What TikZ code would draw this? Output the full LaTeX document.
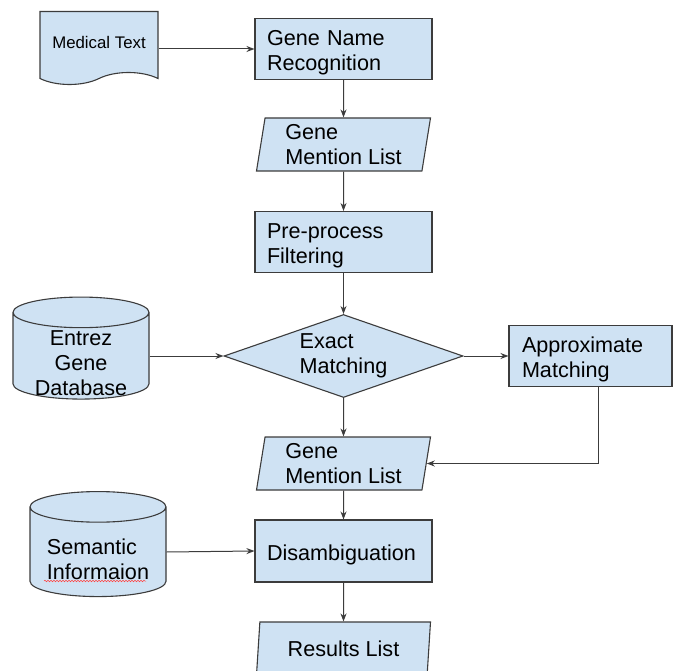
\documentclass[tikz,border=0pt]{standalone}
\usepackage{fontspec}
\setmainfont{Liberation Sans}
\usetikzlibrary{shapes.geometric,shapes.symbols,arrows.meta,decorations.pathmorphing}

\definecolor{boxblue}{RGB}{207,226,243}
\definecolor{topblue}{RGB}{224,237,249}
\definecolor{edgegray}{RGB}{60,60,60}

\tikzset{
  base/.style={draw=edgegray,fill=boxblue,line width=1.1pt,font=\fontsize{21.6}{25}\selectfont,align=left,inner sep=0pt},
  lowtext/.style={execute at begin node={\rule{0pt}{#1}}},
  procbox/.style={base,rectangle,minimum width=177,minimum height=61,text width=153,lowtext=23pt},
  listbox/.style={base,trapezium,trapezium left angle=78,trapezium right angle=102,trapezium stretches body,minimum width=174,minimum height=53},
  dbcyl/.style={base,cylinder,shape border rotate=90,aspect=0.3,cylinder uses custom fill,cylinder body fill=boxblue,cylinder end fill=topblue,text width=102,text height=20,text depth=20,minimum width=136,minimum height=102},
  cyltext/.style={font=\fontsize{21.6}{25}\selectfont,inner sep=0pt,yshift=-7pt},
  flowarrow/.style={draw=edgegray,line width=1pt,-{Stealth[length=8pt,width=6pt]}}
}

\begin{document}
\begin{tikzpicture}[x=1pt,y=-1pt]
		\useasboundingbox[fill=white] (0,0) rectangle (675,671);
		% sources
		\node[base,tape,tape bend top=none,tape bend bottom=in and out,tape bend height=12,minimum width=118,minimum height=73,font=\fontsize{16.8}{20}\selectfont] (med) at (99,42) {Medical Text};
		\node[dbcyl,text height=24,text depth=24,label={[cyltext,align=center]center:Entrez\\Gene\\Database}] (entrez) at (81,356) {};
		\node[dbcyl,minimum height=105,label={[cyltext,align=left]center:Semantic\\Informaion}] (sem) at (98,552) {};
		% main column
		\node[procbox] (gnr) at (343.5,49) {Gene Name\\Recognition};
		\node[listbox] (gml1) at (343.5,144.5) {Gene\\Mention List};
		\node[procbox] (pre) at (343.5,242) {Pre-process\\Filtering};
		\node[base,diamond,shape aspect=2.9,minimum width=239,minimum height=83,lowtext=23pt] (exact) at (343.5,356) {Exact\\Matching};
		\node[procbox,minimum width=163,text width=137] (approx) at (590.5,356) {Approximate\\Matching};
		\node[listbox] (gml2) at (343.5,463.5) {Gene\\Mention List};
		\node[procbox,minimum height=62] (disamb) at (343.5,551) {Disambiguation};
		\node[listbox,align=center] (results) at (343.5,648.5) {Results List};
		% connectors
		\draw[flowarrow] (gnr.west -| med.east) -- (gnr.west);
		\draw[flowarrow] (gnr) -- (gml1);
		\draw[flowarrow] (gml1) -- (pre);
		\draw[flowarrow] (pre) -- (exact);
		\draw[flowarrow] (entrez.east) -- (exact.west);
		\draw[flowarrow] (exact.east) -- (approx.west);
		\draw[flowarrow] (exact) -- (gml2);
		\draw[flowarrow] ([xshift=8]approx.south) |- (gml2.east);
		\draw[flowarrow] (gml2) -- (disamb);
		\draw[flowarrow] (sem.east) -- (disamb.west);
		\draw[flowarrow] (disamb) -- (results);
		% spell-check mark
		\draw[red!75,line width=0.5pt,decorate,decoration={snake,amplitude=0.8pt,segment length=3pt}] (44,581) -- (146,581);
\end{tikzpicture}
\end{document}
